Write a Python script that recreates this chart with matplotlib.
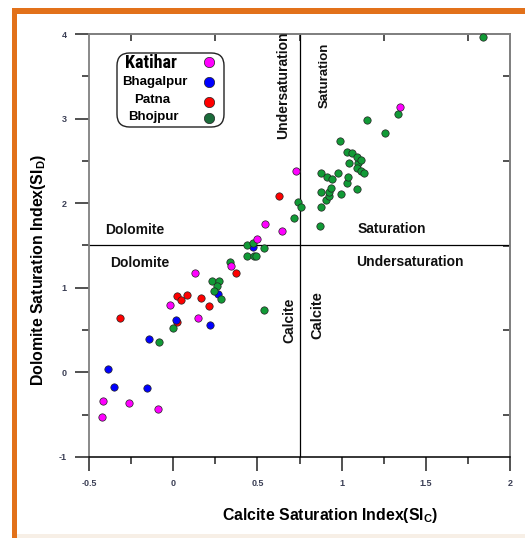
import matplotlib
matplotlib.use("Agg")
import matplotlib.pyplot as plt
from matplotlib.ticker import MultipleLocator
from matplotlib.patches import FancyBboxPatch, Rectangle
from matplotlib import font_manager

plt.rcParams['font.family'] = ['Liberation Sans', 'DejaVu Sans']
plt.rcParams['mathtext.fontset'] = 'custom'
plt.rcParams['mathtext.rm'] = 'Liberation Sans:bold'
plt.rcParams['mathtext.bf'] = 'Liberation Sans:bold'

# ---------------- data ----------------
groups = ["Katihar", "Bhagalpur", "Patna", "Bhojpur"]
colors = ["#ff00ff", "#0000ff", "#ff0000", "#119a36"]
legend_colors = ["#ff00ff", "#0000ff", "#ff0000", "#1b6b3a"]

katihar_x = [-0.424, -0.416, -0.26, -0.089, -0.018, 0.146, 0.13, 0.346, 0.497, 0.548, 0.645, 0.727, 1.345]
katihar_y = [-0.523, -0.334, -0.366, -0.437, 0.80, 0.646, 1.17, 1.26, 1.58, 1.75, 1.674, 2.38, 3.135]

bhagalpur_x = [-0.39, -0.353, -0.157, -0.143, 0.014, 0.216, 0.267, 0.475]
bhagalpur_y = [0.035, -0.17, -0.19, 0.39, 0.62, 0.555, 0.93, 1.48]

patna_x = [-0.313, 0.024, 0.045, 0.081, 0.024, 0.164, 0.214, 0.374, 0.63]
patna_y = [0.643, 0.90, 0.85, 0.91, 0.59, 0.88, 0.78, 1.17, 2.09]

bhojpur_x = [-0.086, 0.0, 0.228, 0.273, 0.261, 0.241, 0.283, 0.34, 0.44, 0.473, 0.537,
             0.437, 0.477, 0.489, 0.542, 0.717, 0.739, 0.758, 0.871, 0.877, 0.905, 0.927,
             0.877, 0.925, 0.935, 0.994, 1.091, 1.034, 1.038, 0.879, 0.911, 0.943, 0.98,
             1.042, 1.099, 1.093, 1.115, 1.133, 1.034, 1.061, 1.091, 1.113, 0.992, 1.153,
             1.255, 1.335, 1.84]
bhojpur_y = [0.36, 0.53, 1.08, 1.08, 1.02, 0.96, 0.87, 1.30, 1.51, 1.53, 1.47,
             1.38, 1.38, 1.38, 0.74, 1.82, 2.01, 1.96, 1.73, 1.96, 2.04, 2.08,
             2.13, 2.135, 2.18, 2.11, 2.17, 2.24, 2.31, 2.355, 2.31, 2.285, 2.36,
             2.48, 2.47, 2.42, 2.38, 2.355, 2.60, 2.59, 2.545, 2.51, 2.74, 2.985,
             2.835, 3.05, 3.97]

calcite_limit = 0.75
dolomite_limit = 1.5
x_ticks = [-0.5, 0, 0.5, 1, 1.5, 2]
x_ticklabels = ["-0.5", "0", "0.5", "1", "1.5", "2"]
y_ticks = [-1, 0, 1, 2, 3, 4]
y_ticklabels = ["-1", "0", "1", "2", "3", "4"]


def pick_condensed():
    names = {f.name for f in font_manager.fontManager.ttflist}
    for cand in ["Liberation Sans Narrow", "DejaVu Sans Condensed", "Roboto Condensed",
                 "Open Sans Condensed"]:
        if cand in names:
            return dict(family=[cand, "Liberation Sans"], fontweight="bold", fontsize=13)
    for f in font_manager.fontManager.ttflist:
        if f.name == "DejaVu Sans" and "condensed" in str(f.stretch):
            return dict(family=["DejaVu Sans"], fontstretch="condensed", fontweight="bold",
                        fontsize=12)
    return dict(family=["Liberation Sans"], fontweight="bold", fontsize=10.5)


# ---------------- figure ----------------
W, H = 525, 538
fig = plt.figure(figsize=(W / 100, H / 100), dpi=100)
fig.patch.set_facecolor("white")

orange = "#e2711a"
fig.patches.append(Rectangle((12 / W, 0), 5 / W, 1 - 8 / H, transform=fig.transFigure,
                             facecolor=orange, edgecolor="none"))
fig.patches.append(Rectangle((12 / W, 1 - 14 / H), 1, 6 / H, transform=fig.transFigure,
                             facecolor=orange, edgecolor="none"))
fig.patches.append(Rectangle((17 / W, 0), 1, 4 / H, transform=fig.transFigure,
                             facecolor="#f7efe6", edgecolor="none"))

ax = fig.add_axes([89 / W, 1 - 457 / H, (510 - 89) / W, (457 - 34) / H])
ax.set_xlim(-0.5, 2)
ax.set_ylim(-1, 4)

ax.axvline(calcite_limit, color="black", lw=0.9, zorder=1)
ax.axhline(dolomite_limit, color="black", lw=0.9, zorder=1)

series = {
    "Patna": (patna_x, patna_y, colors[2]),
    "Bhagalpur": (bhagalpur_x, bhagalpur_y, colors[1]),
    "Bhojpur": (bhojpur_x, bhojpur_y, colors[3]),
    "Katihar": (katihar_x, katihar_y, colors[0]),
}
for name, (xs, ys, c) in series.items():
    ax.scatter(xs, ys, s=28, c=c, edgecolors="#222222", linewidths=0.5, zorder=3, clip_on=False)

# spines
for side in ["left", "top", "right"]:
    ax.spines[side].set_color("#808080")
    ax.spines[side].set_linewidth(1.3)
ax.spines["bottom"].set_color("black")
ax.spines["bottom"].set_linewidth(1.1)

ax.set_xticks(x_ticks)
ax.set_xticklabels(x_ticklabels)
ax.set_yticks(y_ticks)
ax.set_yticklabels(y_ticklabels)
ax.xaxis.set_minor_locator(MultipleLocator(0.25))
ax.yaxis.set_minor_locator(MultipleLocator(0.5))
ax.tick_params(which="major", direction="out", length=10, width=1.1, color="#222222",
               labelsize=6.5, labelcolor="#3b3f55", pad=6)
ax.tick_params(which="minor", direction="out", length=5, width=1.1, color="#222222")
for lab in ax.get_xticklabels() + ax.get_yticklabels():
    lab.set_fontweight("bold")

sec_x = ax.secondary_xaxis("top")
sec_x.set_xticks([])
sec_x.xaxis.set_minor_locator(MultipleLocator(0.5, offset=0.25))
sec_x.tick_params(which="minor", direction="in", length=5, width=1.1, color="#222222")
sec_x.spines["top"].set_color("#808080")
sec_x.spines["top"].set_linewidth(1.3)
sec_y = ax.secondary_yaxis("right")
sec_y.set_yticks([])
sec_y.yaxis.set_minor_locator(MultipleLocator(1, offset=0.5))
sec_y.tick_params(which="minor", direction="in", length=5, width=1.1, color="#222222")
sec_y.spines["right"].set_color("#808080")
sec_y.spines["right"].set_linewidth(1.3)

ax.set_xlabel(r"Calcite Saturation Index(SI$_{\mathbf{C}}$)", fontsize=11.4, fontweight="bold")
ax.xaxis.set_label_coords(0.572, -0.117)
ax.set_ylabel(r"Dolomite Saturation Index(SI$_{\mathbf{D}}$)", fontsize=11.4, fontweight="bold")
ax.yaxis.set_label_coords(-0.098, 0.442)

# region annotations
tk = dict(fontweight="bold", color="#111111", zorder=4)
ax.text(0.655, 3.40, "Undersaturation", rotation=90, ha="center", va="center", fontsize=10, **tk)
ax.text(0.899, 3.51, "Saturation", rotation=90, ha="center", va="center", fontsize=9.5, **tk)
ax.text(-0.402, 1.686, "Dolomite", ha="left", va="center", fontsize=10, **tk)
ax.text(1.095, 1.70, "Saturation", ha="left", va="center", fontsize=10, **tk)
ax.text(-0.372, 1.294, "Dolomite", ha="left", va="center", fontsize=10, **tk)
ax.text(1.089, 1.306, "Undersaturation", ha="left", va="center", fontsize=10, **tk)
ax.text(0.691, 0.617, "Calcite", rotation=90, ha="center", va="center", fontsize=10, **tk)
ax.text(0.857, 0.68, "Calcite", rotation=90, ha="center", va="center", fontsize=10.5, **tk)

# legend (manual, centered labels with markers on the right)
box = FancyBboxPatch(((117 - 89) / 421, (457 - 127) / 423), (224 - 117) / 421, (127 - 53) / 423,
                     boxstyle="round,pad=0,rounding_size=0.03", transform=ax.transAxes,
                     facecolor="white", edgecolor="#222222", lw=1.0, zorder=5)
ax.add_patch(box)
label_y = [63, 82, 100, 117]
marker_y = [62, 82, 102, 118]
label_x = [151, 155, 152, 153]
cond = pick_condensed()
for i, name in enumerate(groups):
    ty = (457 - label_y[i]) / 423
    my = (457 - marker_y[i]) / 423
    tx = (label_x[i] - 89) / 421
    if name == "Katihar":
        ax.text(tx, ty, name, transform=ax.transAxes, ha="center", va="center", zorder=6, **cond)
    else:
        ax.text(tx, ty, name, transform=ax.transAxes, ha="center", va="center",
                fontsize=9.5, fontweight="bold", zorder=6)
    ax.scatter([(209 - 89) / 421], [my], s=55, c=legend_colors[i], edgecolors="#222222",
               linewidths=0.5, transform=ax.transAxes, zorder=6, clip_on=False)

fig.savefig("out.png", dpi=100)
